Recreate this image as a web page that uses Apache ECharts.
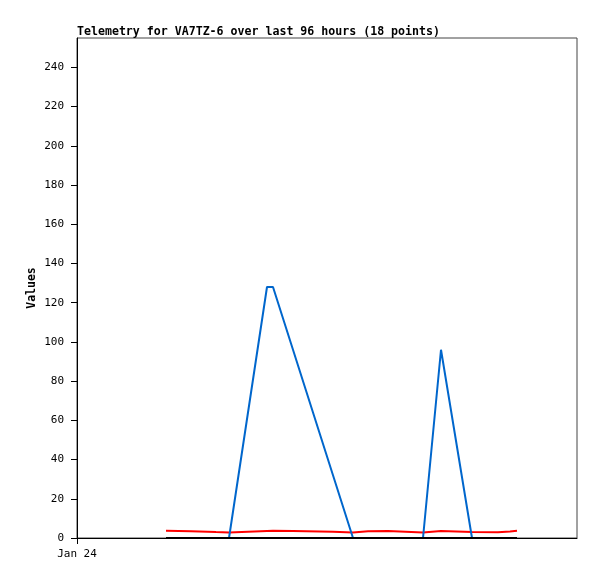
<!DOCTYPE html>
<html>
<head>
<meta charset="utf-8">
<script src="https://cdn.jsdelivr.net/npm/echarts@6/dist/echarts.min.js"></script>
<style>html,body{margin:0;padding:0;background:#fff;}#c{width:597px;height:579px;}</style>
</head>
<body>
<div id="c"></div>
<script>
// hours since Jan 24 00:00
const times = [17.8, 22.8, 27.8, 30.4, 34.2, 38.0, 39.2, 43.2, 51.2, 55.2, 58.2, 62.2, 69.2, 72.8, 79.0, 84.2, 86.6, 88.0];
const redValues = [3.7, 3.5, 3.0, 2.8, 3.2, 3.6, 3.7, 3.6, 3.2, 2.8, 3.4, 3.6, 2.8, 3.6, 3.1, 2.9, 3.3, 3.7];
const blueValues = [0, 0, 0, 0, 64, 128, 128, 96, 32, 0, 0, 0, 0, 96, 0, 0, 0, 0];
const blackValues = [0, 0, 0, 0, 0, 0, 0, 0, 0, 0, 0, 0, 0, 0, 0, 0, 0, 0];
const yTicks = [0, 20, 40, 60, 80, 100, 120, 140, 160, 180, 200, 220, 240];
const xTickLabels = {0: 'Jan 24'};
const titleText = 'Telemetry for VA7TZ-6 over last 96 hours (18 points)';

const pair = v => times.map((t, i) => [t, v[i]]);
const font = 'DejaVu Sans Mono';
const chart = echarts.init(document.getElementById('c'), null, {renderer: 'canvas'});
chart.setOption({
  animation: false,
  backgroundColor: '#fff',
  title: {
    text: titleText, left: 72, top: 21,
    textStyle: {fontFamily: font, fontSize: 11.6, fontWeight: 'bold', color: '#000'}
  },
  grid: {left: 77, top: 38, width: 500, height: 500, show: true, borderColor: '#444', borderWidth: 1, backgroundColor: 'transparent'},
  xAxis: {
    type: 'value', min: 0, max: 100,
    axisLine: {show: true, lineStyle: {color: '#000', width: 1}},
    axisTick: {show: true, length: 6, lineStyle: {color: '#000'}, customValues: [0]},
    axisLabel: {customValues: [0], formatter: v => xTickLabels[v] || '', fontFamily: font, fontSize: 11, color: '#000', margin: 11},
    splitLine: {show: false}
  },
  yAxis: {
    type: 'value', min: 0, max: 255,
    name: 'Values', nameLocation: 'middle', nameGap: 39, nameRotate: 90, nameMoveOverlap: false,
    nameTextStyle: {fontFamily: font, fontSize: 11.5, fontWeight: 'bold', color: '#000'},
    axisLine: {show: true, lineStyle: {color: '#000', width: 1}},
    axisTick: {show: true, length: 6, lineStyle: {color: '#000'}, customValues: yTicks},
    axisLabel: {customValues: yTicks, fontFamily: font, fontSize: 11, color: '#000', margin: 13},
    splitLine: {show: false}
  },
  series: [
    {type: 'line', data: pair(redValues), showSymbol: false, lineStyle: {color: '#ff0000', width: 2}, z: 2},
    {type: 'line', data: pair(blueValues), showSymbol: false, lineStyle: {color: '#0066cc', width: 2}, z: 3},
    {type: 'line', data: pair(blackValues), showSymbol: false, lineStyle: {color: '#000000', width: 2}, z: 4}
  ]
});
</script>
</body>
</html>
